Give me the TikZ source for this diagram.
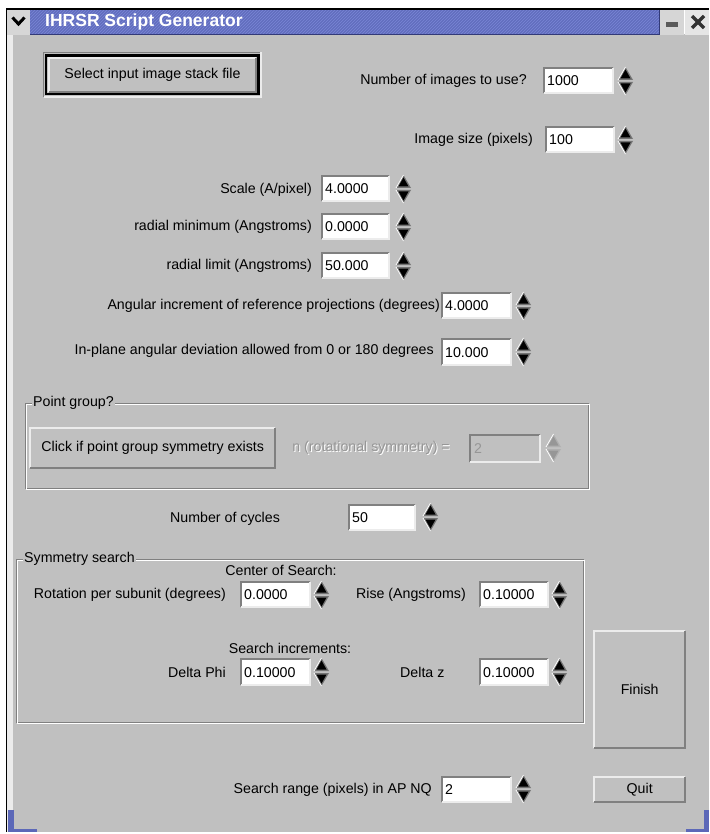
\documentclass[tikz,border=0pt]{standalone}
\usepackage{fontspec}
\setmainfont{Liberation Sans}
\usetikzlibrary{patterns}
\definecolor{bg}{RGB}{192,192,192}
\definecolor{bevdark}{RGB}{128,128,128}
\definecolor{bevlight}{RGB}{236,236,236}
\definecolor{titleblue}{RGB}{98,110,190}
\definecolor{titledark}{RGB}{50,58,120}
\definecolor{stripe}{RGB}{122,134,214}
\definecolor{disgray}{RGB}{150,150,150}
\definecolor{framecorner}{RGB}{92,104,184}
\definecolor{wmbtn}{RGB}{214,214,214}

% entry: name, x, y(top), x2, y2(bottom), text
\newcommand\gEntry[6]{%
  \node[entrybox, minimum width={#4-#2}, minimum height={#5-#3}, anchor=north west] (#1) at (#2,#3) {};
  \draw[bevdark, line width=2pt] (#1.south west) -- (#1.north west) -- (#1.north east);
  \draw[bevlight, line width=2pt] (#1.north east) -- (#1.south east) -- (#1.south west);
  \node[valtext] (#1t) at ([xshift=3pt]#1.west) {#6};
}
% button: name, x, y, x2, y2, text
\newcommand\gButton[6]{%
  \node[btnface, minimum width={#4-#2}, minimum height={#5-#3}, anchor=north west] (#1) at (#2,#3) {#6};
  \draw[bevlight, line width=2pt] (#1.south west) -- (#1.north west) -- (#1.north east);
  \draw[bevdark, line width=2pt] (#1.north east) -- (#1.south east) -- (#1.south west);
}
% spinner: name, x(left), y(centre), colour
\newcommand\gSpin[4]{%
  \fill[#4!40!bg] (#2,#3-1) -- (#2+15,#3-1) -- (#2+7.5,#3-14) -- cycle;
  \fill[#4] (#2+2.5,#3-2.5) -- (#2+12.5,#3-2.5) -- (#2+7.5,#3-11.5) -- cycle;
  \fill[#4!40!bg] (#2,#3+1) -- (#2+15,#3+1) -- (#2+7.5,#3+14) -- cycle;
  \fill[#4] (#2+2.5,#3+2.5) -- (#2+12.5,#3+2.5) -- (#2+7.5,#3+11.5) -- cycle;
  \draw[white, line width=0.8pt] (#2,#3-1) -- (#2+7.5,#3-14);
  \draw[white, line width=0.8pt] (#2,#3+1) -- (#2+7.5,#3+14);
  \coordinate (#1) at (#2+7.5,#3);
}
% groove frame: name, x, y, x2, y2, label
\newcommand\gFrame[6]{%
  \draw[bevdark, line width=1pt] (#2,#3) rectangle (#4,#5);
  \draw[white, line width=1pt] (#2+1,#3+1) rectangle (#4+1,#5+1);
  \node[framelabel, anchor=west] (#1) at (#2+7,#3) {#6};
}

\begin{document}
\begin{tikzpicture}[x=1pt,y=-1pt,
  font=\fontsize{14.2}{16}\selectfont,
  entrybox/.style={fill=white, inner sep=0pt, draw=none},
  btnface/.style={fill=bg, inner sep=0pt, draw=none, align=center},
  valtext/.style={anchor=west, inner sep=0pt, text=black},
  lbl/.style={inner sep=0pt, text=black},
  framelabel/.style={fill=bg, inner sep=1pt, text=black},
  dislbl/.style={inner sep=0pt, text=disgray}]

\useasboundingbox (0,0) rectangle (709,834);
\fill[white] (0,0) rectangle (709,834);

% window body
\fill[bg] (7,34) rectangle (709,832);
\fill[bevlight] (7,34) rectangle (13,832);
\draw[black, line width=1.5pt] (6.5,9) -- (6.5,832);
\fill[framecorner] (7.5,810) rectangle (14,832);
\fill[framecorner] (7.5,829) rectangle (37,832);
\fill[framecorner] (704,810) rectangle (709,832);
\fill[framecorner] (686,829) rectangle (709,832);

% title bar
\fill[titleblue] (30,9) rectangle (659,35);
\fill[pattern=north east lines, pattern color=stripe] (30,9) rectangle (659,35);
\draw[titledark, line width=1.5pt] (30,34.5) -- (659,34.5);
\draw[titledark, line width=1pt] (659,9) -- (659,35);
\draw[black, line width=1.5pt] (6,9) -- (709,9);
\fill[wmbtn] (7,10) rectangle (30,35);
\draw[black, line width=3pt] (12.5,17.5) -- (18.5,24) -- (24.5,17.5);
\node[inner sep=0pt, anchor=west, text=white, font=\fontsize{17.5}{19}\bfseries] (title) at (45,22) {IHRSR Script Generator};
\fill[wmbtn] (660,10) rectangle (684,35);
\fill[white!90!black] (685,10) rectangle (709,35);
\draw[bevdark!70!black, line width=5pt] (666,25) -- (678,25);
\draw[black!80, line width=3.5pt] (692,16) -- (704,28);
\draw[black!80, line width=3.5pt] (692,28) -- (704,16);

% select button
\draw[bevdark, line width=1.5pt] (43.5,97) -- (43.5,52.5) -- (261,52.5);
\draw[bevlight, line width=1.5pt] (261,52.5) -- (261,97) -- (43.5,97);
\draw[black, line width=2.5pt] (46,55.5) rectangle (258.5,94);
\gButton{selbtn}{48.5}{58}{256}{91.5}{Select input image stack file}

% number of images
\node[lbl, anchor=east] (nimgl) at (527,81) {Number of images to use?};
\gEntry{nimg}{544}{68}{613}{93}{1000}
\gSpin{nimgs}{618}{81}{black}

% image size
\node[lbl, anchor=east] (isizel) at (533,140) {Image size (pixels)};
\gEntry{isize}{546}{127}{614}{152}{100}
\gSpin{isizes}{618}{140}{black}

% scale
\node[lbl, anchor=east] (scalel) at (312,190) {Scale (A/pixel)};
\gEntry{scale}{322}{176}{389}{201}{4.0000}
\gSpin{scales}{396}{189}{black}

% radial minimum
\node[lbl, anchor=east] (rminl) at (312,227) {radial minimum (Angstroms)};
\gEntry{rmin}{322}{214}{389}{239}{0.0000}
\gSpin{rmins}{396}{227}{black}

% radial limit
\node[lbl, anchor=east] (rliml) at (312,266) {radial limit (Angstroms)};
\gEntry{rlim}{322}{253}{389}{278}{50.000}
\gSpin{rlims}{396}{266}{black}

% angular increment
\node[lbl, anchor=east] (angl) at (440,306) {Angular increment of reference projections (degrees)};
\gEntry{ang}{442}{293}{511}{318}{4.0000}
\gSpin{angs}{516}{306}{black}

% in-plane
\node[lbl, anchor=east] (inpl) at (434,351) {In-plane angular deviation allowed from 0 or 180 degrees};
\gEntry{inp}{442}{339}{511}{365}{10.000}
\gSpin{inps}{516}{352}{black}

% point group frame
\gFrame{pgf}{25}{403}{588}{488}{Point group?}
\gButton{pgbtn}{30}{428}{275}{468}{Click if point group symmetry exists}
\node[dislbl, anchor=east, text=white] (nsymw) at (451,449) {n (rotational symmetry) =};
\node[dislbl, anchor=east] (nsyml) at (450,448) {n (rotational symmetry) =};
\node[entrybox, fill=bg, minimum width=70, minimum height=27, anchor=north west] (nsym) at (470,435) {};
\draw[bevdark, line width=2pt] (nsym.south west) -- (nsym.north west) -- (nsym.north east);
\draw[bevlight, line width=2pt] (nsym.north east) -- (nsym.south east) -- (nsym.south west);
\node[valtext, text=disgray] (nsymt) at ([xshift=4pt]nsym.west) {2};
\gSpin{nsyms}{546}{448}{disgray}

% number of cycles
\node[lbl, anchor=west] (ncycl) at (170,519) {Number of cycles};
\gEntry{ncyc}{349}{505}{415}{530}{50}
\gSpin{ncycs}{423}{517}{black}

% symmetry search frame
\gFrame{ssf}{16}{559}{583}{722}{Symmetry search}
\node[lbl] (cos) at (281,570) {Center of Search:};
\node[lbl, anchor=east] (rotl) at (226,595) {Rotation per subunit (degrees)};
\gEntry{rot}{241}{582}{310}{607}{0.0000}
\gSpin{rots}{314}{595}{black}
\node[lbl, anchor=east] (risel) at (466,595) {Rise (Angstroms)};
\gEntry{rise}{480}{582}{548}{607}{0.10000}
\gSpin{rises}{552}{595}{black}
\node[lbl] (sinc) at (290,648) {Search increments:};
\node[lbl, anchor=east] (dphil) at (226,672) {Delta Phi};
\gEntry{dphi}{241}{659}{310}{685}{0.10000}
\gSpin{dphis}{314}{672}{black}
\node[lbl, anchor=west] (dzl) at (400,672) {Delta z};
\gEntry{dz}{480}{659}{548}{685}{0.10000}
\gSpin{dzs}{552}{672}{black}

% finish / quit
\gButton{finish}{594}{631}{685}{748}{Finish}
\node[lbl, anchor=east] (srl) at (432,790) {Search range (pixels) in AP NQ};
\gEntry{sr}{442}{777}{511}{802}{2}
\gSpin{srs}{516}{789}{black}
\gButton{quit}{594}{777}{685}{802}{Quit}
\end{tikzpicture}
\end{document}
